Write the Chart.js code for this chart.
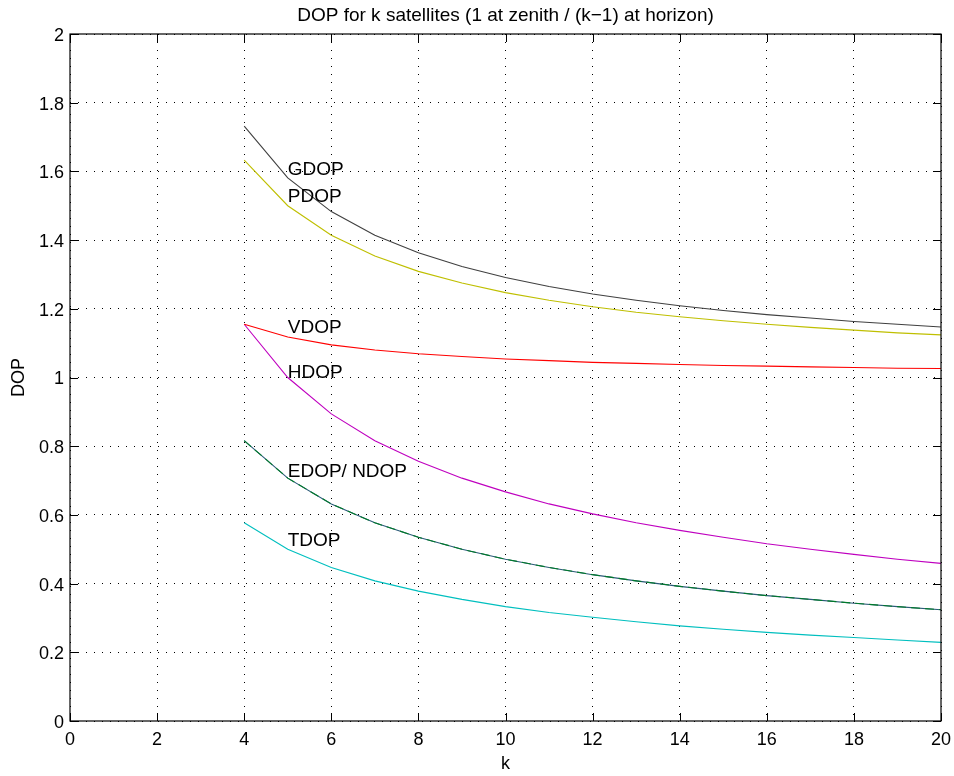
<!DOCTYPE html>
<html>
<head>
<meta charset="utf-8">
<title>DOP for k satellites</title>
<script src="https://cdn.jsdelivr.net/npm/chart.js@4"></script>
<style>
  html, body { margin: 0; padding: 0; background: #fff; }
  #wrap { width: 954px; height: 776px; }
</style>
</head>
<body>
<div id="wrap"><canvas id="c" width="954" height="776"></canvas></div>
<script>
// Number of satellites: one at zenith, k-1 spread evenly on the horizon
const kValues = [4, 5, 6, 7, 8, 9, 10, 11, 12, 13, 14, 15, 16, 17, 18, 19, 20];

const gdop = [1.732, 1.581, 1.483, 1.414, 1.363, 1.323, 1.291, 1.265, 1.243, 1.225, 1.209, 1.195, 1.183, 1.173, 1.163, 1.155, 1.147];
const pdop = [1.633, 1.500, 1.414, 1.354, 1.309, 1.275, 1.247, 1.225, 1.206, 1.190, 1.177, 1.165, 1.155, 1.146, 1.138, 1.130, 1.124];
const vdop = [1.155, 1.118, 1.095, 1.080, 1.069, 1.061, 1.054, 1.049, 1.044, 1.041, 1.038, 1.035, 1.033, 1.031, 1.029, 1.027, 1.026];
const hdop = [1.155, 1.000, 0.894, 0.816, 0.756, 0.707, 0.667, 0.632, 0.603, 0.577, 0.555, 0.535, 0.516, 0.500, 0.485, 0.471, 0.459];
const edop = [0.816, 0.707, 0.632, 0.577, 0.535, 0.500, 0.471, 0.447, 0.426, 0.408, 0.392, 0.378, 0.365, 0.354, 0.343, 0.333, 0.324];
const ndop = [0.816, 0.707, 0.632, 0.577, 0.535, 0.500, 0.471, 0.447, 0.426, 0.408, 0.392, 0.378, 0.365, 0.354, 0.343, 0.333, 0.324];
const tdop = [0.577, 0.500, 0.447, 0.408, 0.378, 0.354, 0.333, 0.316, 0.302, 0.289, 0.277, 0.267, 0.258, 0.250, 0.243, 0.236, 0.229];

// Curve annotations, anchored at k = 5 (text baseline value)
const labelTexts = ['GDOP', 'PDOP', 'VDOP', 'HDOP', 'EDOP/ NDOP', 'TDOP'];
const labelK = 5;
const labelValues = [1.59, 1.51, 1.13, 1.0, 0.71, 0.51];

const chartTitle = 'DOP for k satellites (1 at zenith / (k\u22121) at horizon)';
const xTitle = 'k';
const yTitle = 'DOP';

const FONT = '"Liberation Sans", Arial, Helvetica, sans-serif';

function pts(values) {
  return kValues.map((k, i) => ({ x: k, y: values[i] }));
}

function line(label, values, color, extra) {
  return Object.assign({
    label: label,
    data: pts(values),
    borderColor: color,
    backgroundColor: color,
    borderWidth: 1.1,
    pointRadius: 0,
    tension: 0,
    fill: false
  }, extra || {});
}

// Frame, inward tick marks, title and text annotations
const decorations = {
  id: 'decorations',
  afterDraw(chart) {
    const ctx = chart.ctx;
    const a = chart.chartArea;
    const xs = chart.scales.x, ys = chart.scales.y;
    ctx.save();
    ctx.strokeStyle = '#000';
    ctx.lineWidth = 1.2;
    ctx.strokeRect(a.left, a.top, a.right - a.left, a.bottom - a.top);

    const tl = 8;
    ctx.lineWidth = 1;
    ctx.beginPath();
    xs.ticks.forEach(t => {
      const px = Math.round(xs.getPixelForValue(t.value)) + 0.5;
      ctx.moveTo(px, a.bottom); ctx.lineTo(px, a.bottom - tl);
      ctx.moveTo(px, a.top); ctx.lineTo(px, a.top + tl);
    });
    ys.ticks.forEach(t => {
      const py = Math.round(ys.getPixelForValue(t.value)) + 0.5;
      ctx.moveTo(a.left, py); ctx.lineTo(a.left + tl, py);
      ctx.moveTo(a.right, py); ctx.lineTo(a.right - tl, py);
    });
    ctx.stroke();

    ctx.fillStyle = '#000';
    ctx.font = '19px ' + FONT;
    ctx.textAlign = 'center';
    ctx.textBaseline = 'alphabetic';
    ctx.fillText(chartTitle, (a.left + a.right) / 2, 21);
    ctx.font = '18px ' + FONT;
    ctx.fillText(xTitle, (a.left + a.right) / 2, 769);

    ctx.save();
    ctx.translate(24, (a.top + a.bottom) / 2);
    ctx.rotate(-Math.PI / 2);
    ctx.fillText(yTitle, 0, 0);
    ctx.restore();

    ctx.font = '19px ' + FONT;
    ctx.textAlign = 'left';
    labelTexts.forEach((txt, i) => {
      ctx.fillText(txt, xs.getPixelForValue(labelK), ys.getPixelForValue(labelValues[i]));
    });
    ctx.restore();
  }
};

new Chart(document.getElementById('c'), {
  type: 'line',
  data: {
    datasets: [
      line('GDOP', gdop, '#404040', { order: 1 }),
      line('PDOP', pdop, '#bfbf00', { order: 1 }),
      line('VDOP', vdop, '#ff0000', { order: 1 }),
      line('HDOP', hdop, '#bf00bf', { order: 1 }),
      line('EDOP', edop, '#007a2a', { order: 0, borderDash: [9, 5] }),
      line('NDOP', ndop, '#2a5a78', { order: 2 }),
      line('TDOP', tdop, '#00bfbf', { order: 1 })
    ]
  },
  plugins: [decorations],
  options: {
    responsive: false,
    animation: false,
    events: [],
    layout: { padding: { left: 0, right: 13, top: 34, bottom: 0 } },
    plugins: {
      legend: { display: false },
      title: { display: false },
      tooltip: { enabled: false }
    },
    scales: {
      x: {
        type: 'linear',
        min: 0,
        max: 20,
        afterFit(scale) {
          scale.height = 55;
          scale.paddingLeft = 0;
          scale.paddingRight = 0;
        },
        ticks: {
          stepSize: 2,
          color: '#000',
          padding: 8,
          maxRotation: 0,
          font: { family: FONT, size: 18 }
        },
        grid: { color: '#000', lineWidth: 1, drawTicks: false },
        border: { display: false, dash: [1, 7] }
      },
      y: {
        type: 'linear',
        min: 0,
        max: 2,
        afterFit(scale) {
          scale.width = 70;
          scale.paddingTop = 0;
          scale.paddingBottom = 0;
        },
        ticks: {
          stepSize: 0.2,
          color: '#000',
          padding: 6,
          labelOffset: 2,
          font: { family: FONT, size: 18 },
          callback: v => String(Math.round(v * 10) / 10)
        },
        grid: { color: '#000', lineWidth: 1, drawTicks: false },
        border: { display: false, dash: [1, 7] }
      }
    }
  }
});
</script>
</body>
</html>
